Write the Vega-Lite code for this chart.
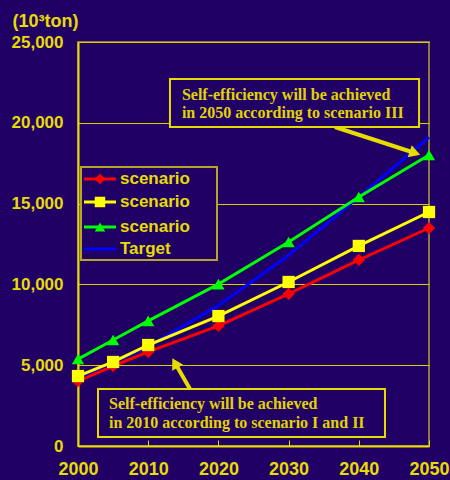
{
  "$schema": "https://vega.github.io/schema/vega-lite/v6.json",
  "width": 351,
  "height": 404,
  "autosize": "none",
  "padding": {"left": 78, "top": 42, "right": 21, "bottom": 34},
  "background": "#210066",
  "config": {
    "view": {"stroke": "#8c7a3e", "strokeWidth": 2},
    "font": "Liberation Sans"
  },
  "datasets": {
    "series": [
      {"s": "scenario I", "x": 2000, "y": 4020},
      {"s": "scenario I", "x": 2005, "y": 4950},
      {"s": "scenario I", "x": 2010, "y": 5820},
      {"s": "scenario I", "x": 2020, "y": 7430},
      {"s": "scenario I", "x": 2030, "y": 9410},
      {"s": "scenario I", "x": 2040, "y": 11510},
      {"s": "scenario I", "x": 2050, "y": 13490},
      {"s": "Target", "x": 2000, "y": 4210},
      {"s": "Target", "x": 2010, "y": 6150},
      {"s": "Target", "x": 2020, "y": 8700},
      {"s": "Target", "x": 2030, "y": 11800},
      {"s": "Target", "x": 2040, "y": 15400},
      {"s": "Target", "x": 2050, "y": 19100},
      {"s": "scenario II", "x": 2000, "y": 4330},
      {"s": "scenario II", "x": 2005, "y": 5200},
      {"s": "scenario II", "x": 2010, "y": 6250},
      {"s": "scenario II", "x": 2020, "y": 8040},
      {"s": "scenario II", "x": 2030, "y": 10150},
      {"s": "scenario II", "x": 2040, "y": 12380},
      {"s": "scenario II", "x": 2050, "y": 14480},
      {"s": "scenario III", "x": 2000, "y": 5380},
      {"s": "scenario III", "x": 2005, "y": 6560},
      {"s": "scenario III", "x": 2010, "y": 7740},
      {"s": "scenario III", "x": 2020, "y": 10020},
      {"s": "scenario III", "x": 2030, "y": 12620},
      {"s": "scenario III", "x": 2040, "y": 15410},
      {"s": "scenario III", "x": 2050, "y": 18010}
    ],
    "legendbox": [
      {"x": 2000.43, "x2": 2019.8, "y": 17265, "y2": 11510}
    ],
    "legenditems": [
      {"s": "scenario I", "label": "scenario", "x": 2000.85, "x2": 2005.41, "mx": 2003.13, "tx": 2005.98, "y": 16520},
      {"s": "scenario II", "label": "scenario", "x": 2000.85, "x2": 2005.41, "mx": 2003.13, "tx": 2005.98, "y": 15100},
      {"s": "scenario III", "label": "scenario", "x": 2000.85, "x2": 2005.41, "mx": 2003.13, "tx": 2005.98, "y": 13550},
      {"s": "Target", "label": "Target", "x": 2000.85, "x2": 2005.41, "mx": 2003.13, "tx": 2005.98, "y": 12190}
    ],
    "boxes": [
      {"id": "top", "x": 2013.1, "x2": 2048.58, "y": 22710, "y2": 19740},
      {"id": "bottom", "x": 2002.85, "x2": 2043.73, "y": 3527, "y2": 557}
    ],
    "notes": [
      {"text": "Self-efficiency will be achieved", "x": 2014.8, "y": 21720},
      {"text": "in 2050 according to scenario III", "x": 2014.8, "y": 20610},
      {"text": "Self-efficiency will be achieved", "x": 2004.42, "y": 2600},
      {"text": "in 2010 according to scenario I and II", "x": 2004.42, "y": 1420}
    ],
    "arrows": [
      {"id": "a1", "x": 2036.6, "y": 19740, "x2": 2048.0, "y2": 18130},
      {"id": "a2", "x": 2015.95, "y": 3527, "x2": 2013.82, "y2": 5136}
    ]
  },
  "encoding": {
    "x": {
      "field": "x",
      "type": "quantitative",
      "scale": {"domain": [2000, 2050], "nice": false, "zero": false},
      "axis": {
        "values": [2000, 2010, 2020, 2030, 2040, 2050],
        "format": "d",
        "title": null,
        "grid": false,
        "domainColor": "#e6dc00",
        "domainWidth": 2,
        "ticks": true,
        "tickColor": "#e6dc00",
        "tickSize": -6,
        "tickWidth": 1,
        "labelPadding": 20,
        "labelColor": "#e6dc00",
        "labelFont": "Liberation Sans",
        "labelFontWeight": "bold",
        "labelFontSize": 18,
        "labelFlush": false
      }
    },
    "y": {
      "field": "y",
      "type": "quantitative",
      "scale": {"domain": [0, 25000], "nice": false},
      "axis": {
        "values": [0, 5000, 10000, 15000, 20000, 25000],
        "format": ",d",
        "title": "(10³ton)",
        "titleAngle": 0,
        "titleX": -66,
        "titleY": -21,
        "titleAlign": "left",
        "titleBaseline": "middle",
        "titleColor": "#e6dc00",
        "titleFont": "Liberation Sans",
        "titleFontWeight": "bold",
        "titleFontSize": 18,
        "grid": true,
        "gridColor": "#d8cc00",
        "gridWidth": 1.2,
        "domainColor": "#e6dc00",
        "domainWidth": 2,
        "ticks": false,
        "labelPadding": 15,
        "labelColor": "#e6dc00",
        "labelFont": "Liberation Sans",
        "labelFontWeight": "bold",
        "labelFontSize": 17
      }
    }
  },
  "layer": [
    {
      "data": {"name": "series"},
      "mark": {"type": "line", "strokeWidth": 3},
      "encoding": {
        "color": {
          "field": "s",
          "type": "nominal",
          "scale": {"domain": ["scenario I", "scenario II", "scenario III", "Target"], "range": ["#ff0000", "#ffff00", "#00ff00", "#0000ff"]},
          "legend": null
        }
      }
    },
    {
      "data": {"name": "series"},
      "transform": [{"filter": "datum.s != 'Target'"}],
      "mark": {"type": "point", "filled": true, "opacity": 1, "size": 150},
      "encoding": {
        "color": {"field": "s", "type": "nominal", "legend": null},
        "shape": {
          "field": "s",
          "type": "nominal",
          "scale": {"domain": ["scenario I", "scenario II", "scenario III"], "range": ["diamond", "square", "triangle-up"]},
          "legend": null
        }
      }
    },
    {
      "data": {"name": "legendbox"},
      "mark": {"type": "rect", "fill": "#210066", "stroke": "#b8a428", "strokeWidth": 2},
      "encoding": {"x2": {"field": "x2"}, "y2": {"field": "y2"}}
    },
    {
      "data": {"name": "legenditems"},
      "mark": {"type": "rule", "strokeWidth": 3},
      "encoding": {
        "x2": {"field": "x2"},
        "color": {"field": "s", "type": "nominal", "legend": null}
      }
    },
    {
      "data": {"name": "legenditems"},
      "transform": [{"filter": "datum.s != 'Target'"}],
      "mark": {"type": "point", "filled": true, "opacity": 1, "size": 110},
      "encoding": {
        "x": {"field": "mx", "type": "quantitative"},
        "color": {"field": "s", "type": "nominal", "legend": null},
        "shape": {"field": "s", "type": "nominal", "legend": null}
      }
    },
    {
      "data": {"name": "legenditems"},
      "mark": {"type": "text", "align": "left", "baseline": "middle", "font": "Liberation Sans", "fontWeight": "bold", "fontSize": 17, "color": "#e6dc00"},
      "encoding": {
        "x": {"field": "tx", "type": "quantitative"},
        "text": {"field": "label"}
      }
    },
    {
      "data": {"name": "arrows"},
      "mark": {"type": "rule", "strokeWidth": 4, "color": "#e6dc00"},
      "encoding": {"x2": {"field": "x2"}, "y2": {"field": "y2"}}
    },
    {
      "data": {"name": "arrows"},
      "transform": [{"filter": "datum.id == 'a1'"}],
      "mark": {"type": "point", "shape": "triangle-up", "filled": true, "opacity": 1, "size": 160, "angle": 108, "color": "#e6dc00"},
      "encoding": {"x": {"field": "x2", "type": "quantitative"}, "y": {"field": "y2", "type": "quantitative"}}
    },
    {
      "data": {"name": "arrows"},
      "transform": [{"filter": "datum.id == 'a2'"}],
      "mark": {"type": "point", "shape": "triangle-up", "filled": true, "opacity": 1, "size": 160, "angle": 331, "color": "#e6dc00"},
      "encoding": {"x": {"field": "x2", "type": "quantitative"}, "y": {"field": "y2", "type": "quantitative"}}
    },
    {
      "data": {"name": "boxes"},
      "mark": {"type": "rect", "fill": "#210066", "stroke": "#e6dc00", "strokeWidth": 2},
      "encoding": {"x2": {"field": "x2"}, "y2": {"field": "y2"}}
    },
    {
      "data": {"name": "notes"},
      "mark": {"type": "text", "align": "left", "baseline": "middle", "font": "Liberation Serif", "fontWeight": "bold", "fontSize": 16, "color": "#e0d400"},
      "encoding": {"text": {"field": "text"}}
    }
  ]
}
